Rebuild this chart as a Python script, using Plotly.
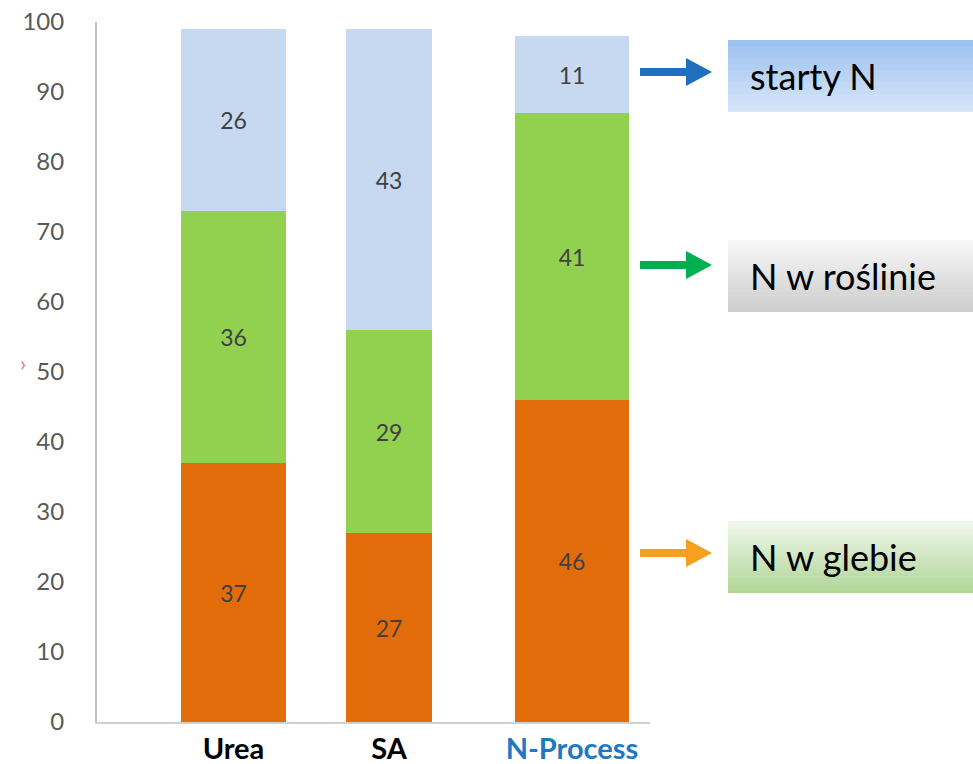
import plotly.graph_objects as go

# ---- data ----
categories = ["Urea", "SA", "N-Process"]
soil_n = [37, 27, 46]      # N w glebie (orange)
plant_n = [36, 29, 41]     # N w roślinie (green)
lost_n = [26, 43, 11]      # starty N (light blue)
y_ticks = [0, 10, 20, 30, 40, 50, 60, 70, 80, 90, 100]
legend_labels = ["starty N", "N w roślinie", "N w glebie"]

# ---- layout constants (pixels) ----
W, H = 973, 764
L, R, T, B = 97, 650, 22, 722
PW, PH = R - L, B - T
bar_centers = [136.5, 292, 475]
bar_widths = [105, 86, 114]

C_SOIL, C_PLANT, C_LOST = "#E36C0A", "#92D050", "#C6D9F1"
FONT = "Lato, Carlito, Calibri, sans-serif"


def px(x):
    return (x - L) / PW


def py(y):
    return (B - y) / PH


fig = go.Figure()
for vals, col in [(soil_n, C_SOIL), (plant_n, C_PLANT), (lost_n, C_LOST)]:
    fig.add_trace(go.Bar(
        x=bar_centers, y=vals, width=bar_widths, marker=dict(color=col, line=dict(width=0)),
        text=vals, texttemplate="%{y}", textposition="inside", insidetextanchor="middle",
        textfont=dict(size=23, color="#404040", family=FONT), showlegend=False,
        hoverinfo="skip"))

ticktext = ["<b>" + categories[0] + "</b>", "<b>" + categories[1] + "</b>",
            "<b><span style='color:#1F78C4'>" + categories[2] + "</span></b>"]

fig.update_layout(
    width=W, height=H, autosize=False,
    margin=dict(l=L, r=W - R, t=T, b=H - B, pad=0),
    barmode="stack", bargap=0,
    plot_bgcolor="white", paper_bgcolor="white",
    font=dict(family=FONT),
    xaxis=dict(range=[0, PW], tickvals=bar_centers, ticktext=ticktext,
               tickfont=dict(size=29, color="black", family=FONT),
               showline=True, linecolor="#D0D0D0", linewidth=2, showgrid=False,
               zeroline=False, ticks="", fixedrange=True, automargin=False,
               ticklabelstandoff=0),
    yaxis=dict(range=[0, 100], tickvals=y_ticks, showgrid=False, zeroline=False,
               showline=True, linecolor="#BFBFBF", linewidth=2, ticks="",
               tickfont=dict(size=24, color="#595959", family=FONT),
               ticklabelstandoff=26, automargin=False),
)


def hex2rgb(h):
    h = h.lstrip("#")
    return tuple(int(h[i:i + 2], 16) for i in (0, 2, 4))


def add_gradient_box(x0, x1, y0, y1, ctop, cbot, n=30):
    a, b = hex2rgb(ctop), hex2rgb(cbot)
    for i in range(n):
        t = i / (n - 1)
        c = tuple(round(a[k] + (b[k] - a[k]) * t) for k in range(3))
        ya = y0 + (y1 - y0) * i / n
        yb = y0 + (y1 - y0) * (i + 1) / n + 0.5
        fig.add_shape(type="rect", xref="paper", yref="paper",
                      x0=px(x0), x1=px(x1), y0=py(ya), y1=py(min(yb, y1)),
                      fillcolor="rgb(%d,%d,%d)" % c, line=dict(width=0), layer="below")


def add_arrow(x0, x1, yc, color, shaft=8, head_len=26, head_h=28):
    xs = x1 - head_len
    path = ("M {a},{b} L {c},{b} L {c},{d} L {e},{f} L {c},{g} L {c},{h} L {a},{h} Z".format(
        a=px(x0), b=py(yc - shaft / 2), c=px(xs), d=py(yc - head_h / 2),
        e=px(x1), f=py(yc), g=py(yc + head_h / 2), h=py(yc + shaft / 2)))
    fig.add_shape(type="path", xref="paper", yref="paper", path=path,
                  fillcolor=color, line=dict(width=0))


boxes = [
    (40, 112, "#9CC2F0", "#D6E5F8", "#1F6FBF", 72),
    (240, 312, "#F7F7F7", "#CDCDCD", "#00B050", 265),
    (521, 593, "#F0F7EC", "#B0D597", "#F7A020", 553),
]
for (y0, y1, ct, cb, ac, ay), label in zip(boxes, legend_labels):
    add_gradient_box(728, 973, y0, y1, ct, cb)
    add_arrow(640, 712, ay, ac)
    fig.add_annotation(text=label, xref="paper", yref="paper", x=px(748), y=py((y0 + y1) / 2),
                       xanchor="left", yanchor="middle", showarrow=False,
                       font=dict(size=36, color="black", family=FONT))

fig.add_annotation(text="›", xref="paper", yref="paper", x=px(18), y=py(363),
                   showarrow=False, font=dict(size=22, color="#E88080", family=FONT))

fig.write_html("out.html", config={"displayModeBar": False},
               post_script="document.body.style.margin='0';"
                           "document.body.style.overflow='hidden';")
